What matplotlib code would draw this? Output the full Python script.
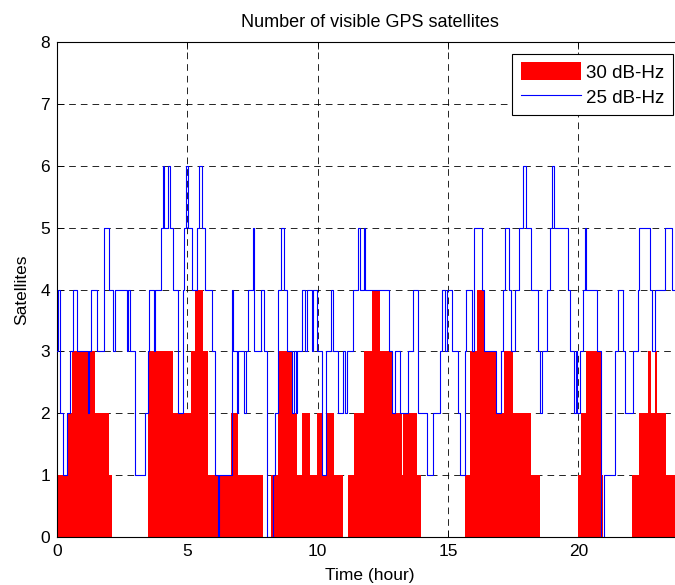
import matplotlib
matplotlib.use("Agg")
import matplotlib.pyplot as plt
from matplotlib.patches import Patch
from matplotlib.lines import Line2D

plt.rcParams['font.family'] = ['Liberation Sans', 'DejaVu Sans']

# 30 dB-Hz (red area) change points: time (hour) and satellites
red_t = [0, 0.375, 0.566, 1.46, 2.01, 2.10, 3.50, 4.46, 5.14, 5.29, 5.59, 5.80,
         6.19, 6.25, 6.67, 6.93, 7.92, 8.23, 8.49, 9.00, 9.19, 9.39, 9.70, 9.96,
         10.15, 10.34, 10.62, 10.98, 11.17, 11.39, 11.77, 12.07, 12.39, 12.84, 13.22, 13.26,
         13.83, 13.96, 15.65, 15.84, 16.10, 16.38, 16.84, 17.14, 17.48, 18.20, 18.52, 19.99,
         20.12, 20.29, 20.85, 20.95, 22.04, 22.33, 22.68, 22.77, 22.93, 23.00, 23.35, 24.0]
red_v = [1, 2, 3, 2, 1, 0, 3, 2, 3, 4, 3, 1,
         0, 1, 2, 1, 0, 1, 3, 2, 1, 2, 1, 2,
         1, 2, 1, 0, 1, 2, 3, 4, 3, 2, 1, 2,
         1, 0, 1, 3, 4, 3, 2, 3, 2, 1, 0, 1,
         2, 3, 1, 0, 1, 2, 3, 2, 3, 2, 1, 1]

# 25 dB-Hz (blue line) change points
blue_t = [0, 0.05, 0.12, 0.22, 0.375, 0.50, 0.60, 0.76, 1.20, 1.25, 1.29, 1.52,
          1.81, 1.98, 2.16, 2.22, 2.68, 2.72, 2.80, 2.99, 3.38, 3.50, 3.55, 3.72,
          3.76, 3.99, 4.07, 4.12, 4.27, 4.35, 4.46, 4.63, 4.85, 4.88, 4.97, 5.04,
          5.17, 5.36, 5.46, 5.55, 5.68, 5.96, 6.06, 6.16, 6.23, 6.70, 6.76, 6.89,
          6.95, 7.18, 7.27, 7.34, 7.53, 7.57, 7.82, 7.94, 8.07, 8.27, 8.36, 8.49,
          8.58, 8.71, 8.84, 9.00, 9.09, 9.17, 9.22, 9.39, 9.51, 9.58, 9.77, 9.83,
          9.96, 10.15, 10.34, 10.53, 10.60, 10.79, 10.98, 11.05, 11.11, 11.37, 11.56, 11.62,
          11.79, 11.83, 12.73, 12.86, 12.96, 13.15, 13.47, 13.67, 13.86, 14.18, 14.43, 14.69,
          14.78, 14.88, 14.98, 15.16, 15.39, 15.45, 15.65, 15.71, 15.93, 16.00, 16.29, 16.38,
          16.84, 17.02, 17.12, 17.18, 17.35, 17.40, 17.57, 17.73, 17.88, 18.01, 18.20, 18.46,
          18.52, 18.62, 18.78, 18.93, 19.00, 19.07, 19.61, 19.67, 19.83, 19.91, 19.95, 20.06,
          20.16, 20.24, 20.31, 20.70, 20.85, 20.88, 21.00, 21.40, 21.54, 21.72, 21.78, 22.10,
          22.29, 22.33, 22.75, 22.83, 22.95, 23.32, 23.58, 24.0]
blue_v = [3, 4, 2, 1, 2, 3, 4, 3, 2, 3, 4, 3,
          5, 4, 3, 4, 3, 4, 3, 1, 2, 3, 4, 3,
          4, 5, 6, 5, 6, 5, 4, 2, 4, 5, 6, 5,
          4, 5, 6, 5, 4, 3, 1, 0, 1, 4, 3, 2,
          3, 2, 3, 4, 5, 3, 4, 3, 0, 1, 2, 4,
          5, 4, 3, 2, 3, 2, 3, 4, 3, 4, 3, 4,
          3, 1, 3, 4, 3, 2, 3, 2, 3, 4, 5, 4,
          5, 4, 3, 2, 3, 2, 3, 4, 2, 1, 2, 3,
          4, 3, 4, 3, 2, 1, 3, 4, 3, 5, 4, 3,
          2, 3, 4, 5, 4, 3, 4, 5, 6, 5, 4, 3,
          2, 3, 4, 5, 6, 5, 4, 3, 2, 3, 2, 3,
          4, 5, 4, 3, 2, 0, 1, 3, 4, 3, 2, 3,
          4, 5, 4, 3, 4, 5, 4, 4]

x_ticks = [0, 5, 10, 15, 20]
y_ticks = [0, 1, 2, 3, 4, 5, 6, 7, 8]

fig = plt.figure(figsize=(6.75, 5.85), dpi=100)
ax = fig.add_axes([0.0843, 0.0826, 0.927, 0.8448])

ax.fill_between(red_t, red_v, step='post', color='#ff0000', linewidth=0, zorder=2)
ax.step(blue_t, blue_v, where='post', color='#0000ff', linewidth=0.8, zorder=3)

ax.set_xlim(0, 24)
ax.set_ylim(0, 8)
ax.set_xticks(x_ticks)
ax.set_yticks(y_ticks)
ax.set_axisbelow(True)
ax.grid(True, color='black', linestyle=(0, (8, 6)), linewidth=0.6)
ax.tick_params(direction='in', length=5, width=0.6, top=True, right=True,
               labelsize=12.5, colors='black', pad=5)
for s in ax.spines.values():
    s.set_linewidth(0.8)
    s.set_color('black')

ax.set_title('Number of visible GPS satellites', fontsize=13, pad=11)
ax.set_xlabel('Time (hour)', fontsize=12.5, labelpad=7)
ax.set_ylabel('Satellites', fontsize=12.5, labelpad=8)

handles = [Patch(facecolor='#ff0000', edgecolor='none', label='30 dB-Hz'),
           Line2D([], [], color='#0000ff', linewidth=0.8, label='25 dB-Hz')]
leg = ax.legend(handles=handles, loc='upper right',
                bbox_to_anchor=(673 / 675, 1 - 54 / 585), bbox_transform=fig.transFigure,
                borderaxespad=0, fancybox=False, framealpha=1, edgecolor='black',
                fontsize=13.5, handlelength=3.2, handleheight=1.1, handletextpad=0.3,
                borderpad=0.45, labelspacing=0.3)
leg.get_frame().set_linewidth(0.8)

fig.savefig('out.png', dpi=100)
